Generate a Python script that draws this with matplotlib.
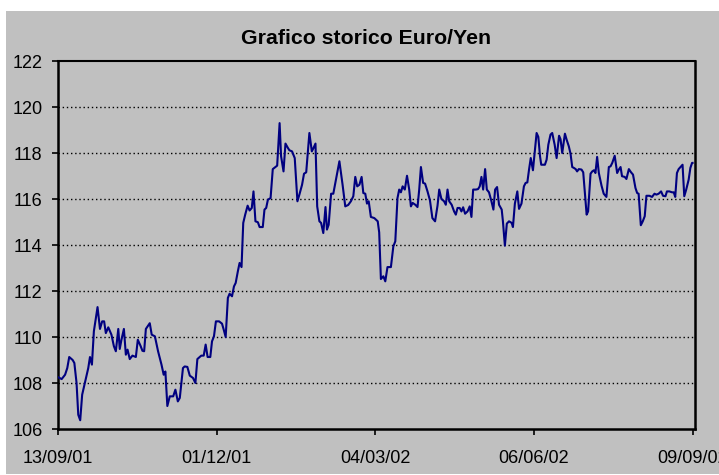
import matplotlib
matplotlib.use("Agg")
import matplotlib.pyplot as plt
from matplotlib.patches import Rectangle

plt.rcParams['font.family'] = ['Liberation Sans', 'DejaVu Sans']

# trading-day index (0 = 13/09/01, 260 = 09/09/02) and EUR/JPY close
days = [
    0.1, 1.5, 2.9, 3.8, 4.6, 6.0, 6.7, 7.6, 8.3, 9.1, 9.9, 11.0, 12.4, 13.1, 13.9,
    14.7, 16.2, 17.2, 18.1, 18.9, 19.6, 20.6, 21.9, 22.9, 23.7, 24.7, 25.3, 26.0,
    27.0, 27.8, 28.5, 29.4, 30.5, 31.9, 32.7, 33.8, 34.6, 35.3, 36.0, 37.6, 38.4,
    39.7, 41.0, 42.4, 43.3, 44.0, 44.8, 45.8, 47.2, 48.1, 49.1, 49.9, 51.2, 51.9,
    53.0, 54.0, 55.3, 56.3, 57.1, 58.7, 59.7, 60.5, 61.3, 62.4, 63.1, 63.9, 64.7,
    66.0, 67.2, 67.9, 68.7, 69.6, 70.3, 71.3, 72.1, 72.8, 73.7, 74.4, 75.2, 75.9,
    76.7, 77.7, 78.5, 79.4, 80.1, 80.9, 81.9, 82.6, 83.9, 84.6, 85.3, 86.0, 87.1,
    88.0, 89.1, 89.8, 90.8, 91.4, 92.4, 93.2, 94.2, 94.8, 95.9, 97.0, 98.1, 98.9,
    100.0, 100.8, 101.7, 103.0, 104.0, 104.7, 105.5, 106.2, 107.1, 107.8, 108.7,
    109.6, 110.2, 110.9, 111.9, 112.8, 113.9, 115.3, 116.6, 117.7, 118.9, 120.0,
    121.0, 121.8, 122.6, 123.5, 124.4, 125.1, 125.9, 126.6, 127.3, 128.2, 129.6,
    131.0, 131.6, 132.3, 133.3, 134.1, 135.0, 136.4, 137.4, 138.2, 139.1, 139.8,
    140.5, 141.2, 142.1, 143.0, 143.9, 144.6, 145.3, 146.4, 147.3, 148.0, 148.7,
    149.6, 150.4, 151.4, 152.4, 153.4, 154.5, 155.5, 156.2, 157.1, 158.2, 158.9,
    159.6, 160.3, 161.3, 162.3, 163.0, 163.7, 164.6, 165.3, 166.0, 166.8, 167.8,
    168.7, 169.4, 170.1, 171.2, 172.1, 172.8, 173.5, 174.2, 175.0, 175.7, 176.6,
    177.6, 178.4, 179.1, 179.9, 180.7, 181.8, 182.3, 183.1, 183.9, 184.8, 185.9,
    186.4, 187.2, 188.2, 188.9, 189.9, 190.9, 191.6, 192.3, 193.0, 193.7, 194.6,
    195.4, 196.1, 196.8, 197.5, 198.0, 199.5, 200.2, 200.9, 201.8, 202.5, 203.5,
    204.3, 205.3, 205.9, 206.6, 207.7, 208.4, 209.3, 210.0, 210.7, 211.4, 212.1,
    212.7, 213.4, 214.5, 215.2, 215.9, 216.6, 217.2, 218.2, 218.9, 219.6, 220.2,
    220.9, 221.6, 222.7, 223.6, 224.7, 225.7, 226.4, 227.1, 228.1, 229.1, 229.8,
    230.5, 231.1, 232.2, 232.9, 233.9, 234.8, 235.6, 236.6, 237.3, 237.9, 238.8,
    239.6, 240.4, 241.1, 242.3, 243.4, 244.4, 245.2, 246.1, 247.1, 247.9, 248.9,
    249.5, 250.5, 251.6, 252.3, 252.9, 253.6, 254.3, 255.3, 255.9, 256.6, 257.4,
    258.4, 259.1, 259.8, 260.0,
]
rate = [
    108.25, 108.17, 108.36, 108.65, 109.13, 109.00, 108.87, 108.00, 106.62, 106.38,
    107.49, 108.00, 108.65, 109.13, 108.80, 110.25, 111.30, 110.35, 110.68, 110.68,
    110.17, 110.42, 110.10, 109.60, 109.38, 110.35, 109.48, 109.88, 110.35, 109.23,
    109.45, 109.04, 109.19, 109.13, 109.88, 109.62, 109.40, 109.38, 110.35, 110.60,
    110.10, 110.03, 109.38, 108.80, 108.36, 108.50, 107.00, 107.42, 107.42, 107.71,
    107.20, 107.35, 108.65, 108.72, 108.70, 108.32, 108.22, 108.00, 109.04, 109.19,
    109.19, 109.67, 109.13, 109.13, 109.81, 110.03, 110.68,
    110.68, 110.58, 110.32, 110.00, 111.70, 111.88, 111.77, 112.20, 112.35, 112.86,
    113.22, 113.04, 114.96, 115.32, 115.71, 115.50, 115.61, 116.33, 115.03, 114.99,
    114.78, 114.78, 115.54, 115.61, 115.97, 116.04, 117.30, 117.39, 117.45, 119.30,
    117.86, 117.20, 118.41, 118.22, 118.12, 118.07, 117.78, 115.90, 116.19, 116.62,
    117.10, 117.16, 118.87, 118.07, 118.22, 118.41, 115.68, 115.03, 114.96, 114.52,
    115.65, 114.67, 114.88, 116.23, 116.23, 116.84, 117.64, 116.62, 115.68, 115.74,
    115.90, 116.12, 116.96, 116.55, 116.62,
    116.96, 116.26, 116.23, 115.80, 115.90, 115.22, 115.17, 115.03, 114.55, 112.52,
    112.64, 112.42, 113.04, 113.04, 113.94, 114.16, 116.04, 116.41, 116.29, 116.55,
    116.41, 117.01, 116.41, 115.68, 115.83, 115.75, 115.65, 116.41, 117.39, 116.70,
    116.67, 116.33, 115.94, 115.17, 115.03, 115.71, 116.41, 116.00, 115.90, 115.75,
    116.41, 115.90, 115.75, 115.46, 115.32, 115.61, 115.61, 115.46, 115.64, 115.36,
    115.46, 115.68, 115.22, 116.41, 116.41, 116.43, 116.55, 116.96, 116.41, 117.30,
    116.41, 116.29, 115.90, 115.54, 116.41, 116.52, 115.75, 115.54, 115.03, 113.97,
    114.93, 115.03, 114.96, 114.78, 115.80, 116.33, 115.57,
    115.80, 116.55, 116.70, 116.72, 117.28, 117.78, 117.25, 118.14, 118.87, 118.70,
    117.86, 117.49, 117.49, 117.71, 118.36, 118.80, 118.87, 118.36, 117.78, 118.75,
    118.60, 118.00, 118.84, 118.58, 118.29, 117.97, 117.39, 117.35, 117.30, 117.20,
    117.30, 117.28, 117.16, 116.26, 115.32, 115.46, 117.10, 117.20, 117.25, 117.13,
    117.83, 117.13, 116.58, 116.23, 116.09, 117.39, 117.42, 117.57, 117.88, 117.13,
    117.28, 117.39, 116.99, 116.96, 116.87, 117.30, 117.16, 117.06, 116.48, 116.26,
    116.23, 114.86, 115.03, 115.25, 116.14, 116.14, 116.09, 116.23, 116.19, 116.23,
    116.33, 116.14, 116.12, 116.33, 116.33, 116.29, 116.29, 116.09, 117.13, 117.30,
    117.42, 117.49, 116.12, 116.41, 116.84, 117.35, 117.57, 117.57,
]
tick_days = [0, 65, 130, 195, 260]
tick_labels = ['13/09/01', '01/12/01', '04/03/02', '06/06/02', '09/09/02']
y_ticks = [106, 108, 110, 112, 114, 116, 118, 120, 122]

fig = plt.figure(figsize=(7.19, 4.75), dpi=100)
fig.patch.set_facecolor('white')
fig.patches.append(Rectangle((6 / 719, 1 / 475), 713 / 719, 463 / 475,
                             transform=fig.transFigure, facecolor='#c0c0c0',
                             edgecolor='none', zorder=-10))

ax = fig.add_axes([58 / 719, 46 / 475, 637 / 719, 368 / 475])
ax.set_facecolor('#c0c0c0')

for yv in y_ticks[1:-1]:
    ax.axhline(yv, color='black', lw=1.0, ls=(0, (1, 2)), zorder=1)

ax.plot(days, rate, color='#000080', lw=1.5, zorder=3)

ax.set_xlim(0, 261)
ax.set_ylim(106, 122)
ax.set_xticks(tick_days)
ax.set_xticklabels(tick_labels)
ax.set_yticks(y_ticks)
ax.tick_params(axis='both', direction='out', length=4, width=1.2,
               labelsize=13, colors='black')
ax.tick_params(axis='x', pad=11)
ax.tick_params(axis='y', pad=7)

for s in ax.spines.values():
    s.set_color('black')
    s.set_linewidth(1.8)
ax.spines['top'].set_linewidth(1.5)

fig.text(366 / 719, 1 - 39 / 475, 'Grafico storico Euro/Yen',
         ha='center', va='center', fontsize=15.3, fontweight='bold')

fig.savefig('out.png', dpi=100, facecolor='white')
